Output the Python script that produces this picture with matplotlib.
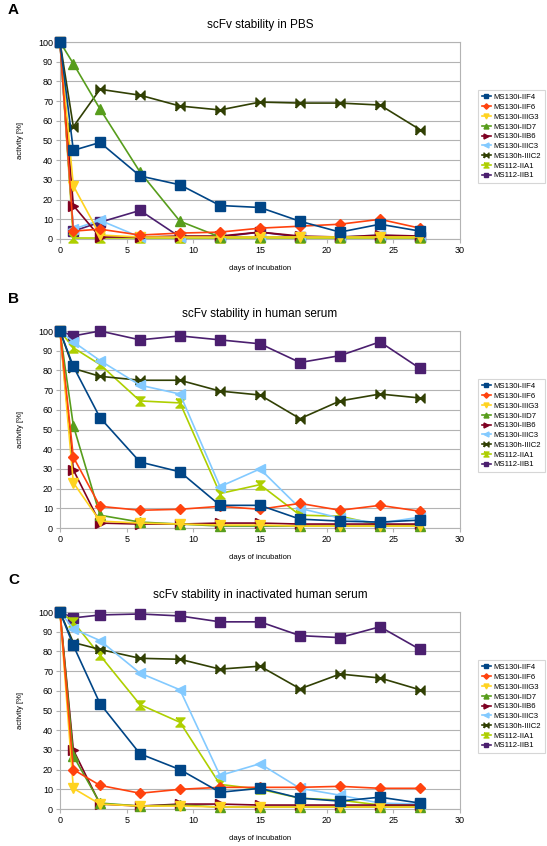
import matplotlib
matplotlib.use("Agg")
import matplotlib.pyplot as plt

plt.rcParams['font.family'] = ['Liberation Sans', 'DejaVu Sans']

days = [0, 1, 3, 6, 9, 12, 15, 18, 21, 24, 27]

names = ["MS130i-IIF4", "MS130i-IIF6", "MS130i-IIIG3", "MS130i-IID7", "MS130i-IIB6",
         "MS130i-IIIC3", "MS130h-IIIC2", "MS112-IIA1", "MS112-IIB1"]

colors = ["#004586", "#ff420e", "#ffd320", "#579d1c", "#7e0021",
          "#83caff", "#314004", "#aecf00", "#4b1f6f"]

# bowtie / hourglass like the office chart symbols
bowtie = [(-1, -1), (-1, 1), (1, -1), (1, 1), (-1, -1)]
hourglass = [(-1, 1), (1, 1), (-1, -1), (1, -1), (-1, 1)]
markers = ["s", "D", "v", "^", ">", "<", bowtie, hourglass, "s"]
msizes = [6.5, 5, 6.5, 6.5, 6.5, 6.5, 6.5, 6.5, 6.5]

# panel A - PBS
pbs = [
    [100, 45, 49, 32, 27.5, 17, 16, 9, 3.5, 7.5, 4],
    [100, 4, 5, 2, 3, 3.5, 5.5, 6.5, 7.5, 10, 5.5],
    [100, 27, 2, 1, 1, 1, 1, 1, 1, 1, 1],
    [100, 89, 66, 34, 9, 1, 1, 1, 1, 1, 1],
    [100, 17, 1, 1, 1.5, 1.5, 3.5, 1.5, 1, 2, 1.5],
    [100, 5, 9.5, 1, 1, 1, 1, 1, 1, 2, 1],
    [100, 57, 76, 73, 67.5, 65.5, 69.5, 69, 69, 68, 55.5],
    [100, 0.5, 0.5, 0.5, 0.5, 0.5, 0.5, 0.5, 0.5, 0.5, 0.5],
    [100, 4, 8.5, 14.5, 1, 1, 3.5, 1, 1, 1, 1],
]

# panel B - human serum
serum = [
    [100, 82, 56, 33.5, 28.5, 11.5, 11.5, 4.5, 3.5, 3, 4],
    [100, 36, 11, 9, 9.5, 11, 9.5, 12.5, 9, 11.5, 8.5],
    [100, 23, 3.5, 2.5, 2, 1.5, 1.5, 1, 1, 1, 1],
    [100, 52, 6.5, 3, 2, 1, 1, 1, 1, 1, 1],
    [100, 29.5, 2.5, 2, 2, 2.5, 2.5, 2, 2, 2, 2],
    [100, 94.5, 85, 72.5, 68, 21, 30, 10, 5, 2.5, 5.5],
    [100, 81, 77, 75, 75, 69.5, 67.5, 55.5, 64.5, 68, 66],
    [100, 91.5, 83, 64.5, 63.5, 17.5, 22, 6.5, 6, 1.5, 1.5],
    [100, 97.5, 100, 95.5, 97.5, 95.5, 93.5, 84, 87.5, 94.5, 81],
]

# panel C - inactivated human serum
inact = [
    [100, 83, 53.5, 28, 20, 8.5, 10.5, 5.5, 4, 6, 3],
    [100, 20, 12, 8, 10, 11, 11, 11, 11.5, 10.5, 10.5],
    [100, 10.5, 2.5, 1.5, 1.5, 1, 1, 1, 1, 1, 1],
    [100, 27, 3, 1.5, 2, 1, 1, 1, 1, 1, 1],
    [100, 30, 2.5, 1.5, 2.5, 2.5, 2, 2, 2, 2, 2],
    [100, 91.5, 85.5, 69, 60.5, 17, 23, 10.5, 7, 3, 2.5],
    [100, 84.5, 81, 76.5, 76, 71, 72.5, 61, 68.5, 66.5, 60.5],
    [100, 95, 78, 53, 44, 12.5, 10, 5.5, 4.5, 2, 2],
    [100, 97, 98.5, 99, 98, 95, 95, 88, 87, 92.5, 81],
]

panels = [("A", "scFv stability in PBS", pbs),
          ("B", "scFv stability in human serum", serum),
          ("C", "scFv stability in inactivated human serum", inact)]

W, H = 547, 846
fig = plt.figure(figsize=(W / 100, H / 100), dpi=100)

tops = [42, 331, 612]   # pixel rows of the y=100 line
ph = 197
for (letter, title, data), top in zip(panels, tops):
    ax = fig.add_axes([60 / W, 1 - (top + ph) / H, 400 / W, ph / H])
    for i in range(len(names)):
        # first series ends up on top
        ax.plot(days, data[i], color=colors[i], marker=markers[i], ms=msizes[i],
                mec=colors[i], lw=1.2, label=names[i], clip_on=False, zorder=5 - i * 0.1)
    ax.set_xlim(0, 30)
    ax.set_ylim(0, 100)
    ax.set_xticks(range(0, 31, 5))
    ax.set_yticks(range(0, 101, 10))
    ax.yaxis.grid(True, color="#b3b3b3", lw=0.8)
    ax.set_axisbelow(True)
    for s in ax.spines.values():
        s.set_color("#b3b3b3")
    ax.tick_params(labelsize=6.5, length=3, color="#b3b3b3", pad=2)
    ax.set_title(title, fontsize=8.5, pad=10)
    ax.set_xlabel("days of incubation", fontsize=5.5, labelpad=7)
    ax.set_ylabel("activity [%]", fontsize=5.5, labelpad=10)
    leg = ax.legend(loc="center left", bbox_to_anchor=(1.035, 0.52), fontsize=5.6,
                    frameon=True, fancybox=False, handlelength=1.2, handletextpad=0.3,
                    labelspacing=0.3, borderpad=0.5, markerscale=0.55)
    leg.get_frame().set_edgecolor("#cccccc")
    leg.get_frame().set_linewidth(0.8)
    fig.text(8 / W, 1 - (top - 32) / H, letter, fontsize=11, fontweight="bold", va="center")

fig.savefig("out.png", dpi=100)
